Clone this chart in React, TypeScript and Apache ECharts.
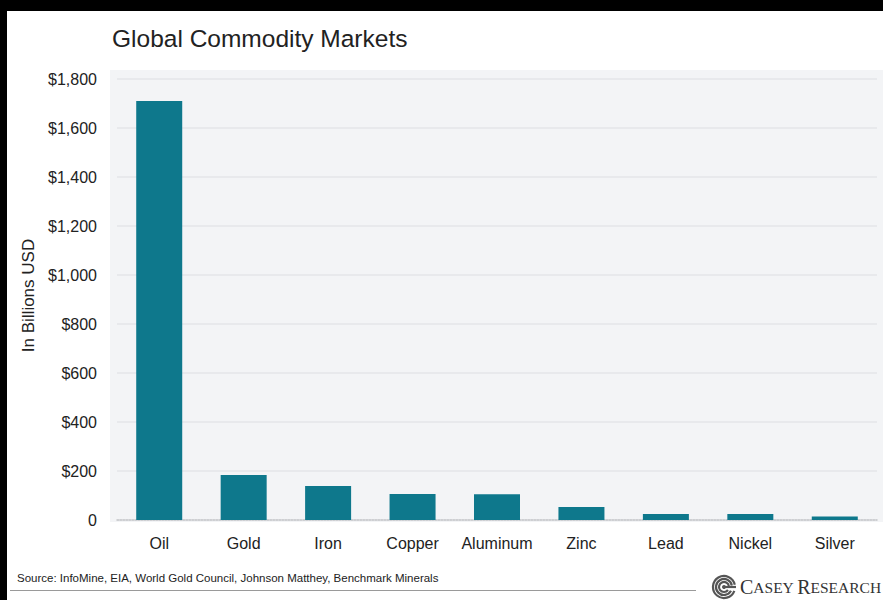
import React, { useEffect, useRef } from "react";
import * as echarts from "echarts";

const categories = ["Oil", "Gold", "Iron", "Copper", "Aluminum", "Zinc", "Lead", "Nickel", "Silver"];
const marketValues = [1710, 184, 139, 106, 105, 53, 24, 24, 14];
const yTickLabels = ["0", "$200", "$400", "$600", "$800", "$1,000", "$1,200", "$1,400", "$1,600", "$1,800"];
const titleText = "Global Commodity Markets";
const yAxisTitle = "In Billions USD";
const sourceText = "Source: InfoMine, EIA, World Gold Council, Johnson Matthey, Benchmark Minerals";

const FONT = "'Liberation Sans', Arial, Helvetica, sans-serif";
const SERIF = "'Liberation Serif', 'Times New Roman', serif";

export default function App() {
  const ref = useRef<HTMLDivElement>(null);

  useEffect(() => {
    if (!ref.current) return;
    const chart = echarts.init(ref.current, null, { renderer: "svg" });
    const cx = 724;
    const cy = 587;
    const swirl = [11, 8, 5].map((r, i) => ({
      type: "arc",
      z: 5,
      shape: { cx, cy, r, startAngle: 0.35 + i * 0.15, endAngle: Math.PI * 2 - 0.2 },
      style: { stroke: "#555", lineWidth: 2.2, fill: "none" },
      silent: true,
    }));
    chart.setOption({
      animation: false,
      backgroundColor: "#000",
      grid: { left: 117, right: 6, top: 79, bottom: 80, containLabel: false },
      xAxis: {
        type: "category",
        data: categories,
        axisTick: { show: false },
        axisLine: { show: true, lineStyle: { color: "#c4c6c9", type: "dotted", width: 1.5 } },
        axisLabel: { color: "#222", fontFamily: FONT, fontSize: 16, margin: 15, interval: 0 },
      },
      yAxis: {
        type: "value",
        min: 0,
        max: 1800,
        interval: 200,
        name: yAxisTitle,
        nameLocation: "middle",
        nameGap: 78,
        nameRotate: 90,
        nameTextStyle: { color: "#222", fontFamily: FONT, fontSize: 17, padding: [0, 0, 0, 8] },
        axisLine: { show: false },
        axisTick: { show: false },
        axisLabel: {
          color: "#222",
          fontFamily: FONT,
          fontSize: 16,
          margin: 20,
          formatter: (_v: number, idx: number) => yTickLabels[idx],
        },
        splitLine: { show: true, lineStyle: { color: "#e4e6e9", width: 1.5 } },
      },
      series: [
        {
          type: "bar",
          data: marketValues,
          barWidth: 46,
          itemStyle: { color: "#0e788c" },
        },
      ],
      graphic: [
        { type: "rect", z: -20, silent: true, shape: { x: 7, y: 11, width: 876, height: 589 }, style: { fill: "#fff" } },
        { type: "rect", z: -10, silent: true, shape: { x: 110, y: 70, width: 773, height: 452 }, style: { fill: "#f3f4f6" } },
        {
          type: "text",
          x: 112,
          y: 38.5,
          style: { text: titleText, fontFamily: FONT, fontSize: 24.5, fill: "#222", verticalAlign: "middle", align: "left" },
        },
        {
          type: "text",
          x: 17,
          y: 578,
          style: { text: sourceText, fontFamily: FONT, fontSize: 11.5, fill: "#222", verticalAlign: "middle", align: "left" },
        },
        { type: "line", shape: { x1: 10, y1: 590.5, x2: 696, y2: 590.5 }, style: { stroke: "#9a9a9a", lineWidth: 1 } },
        ...swirl,
        { type: "circle", z: 5, shape: { cx, cy, r: 2 }, style: { fill: "#555" } },
        { type: "line", z: 5, shape: { x1: cx, y1: cy, x2: cx + 12, y2: cy }, style: { stroke: "#555", lineWidth: 2.2 } },
        {
          type: "text",
          x: 740,
          y: 597,
          style: {
            text: "{b|C}{s|ASEY} {b|R}{s|ESEARCH}",
            verticalAlign: "bottom",
            align: "left",
            fill: "#333",
            rich: {
              b: { fontFamily: SERIF, fontSize: 20, fill: "#333" },
              s: { fontFamily: SERIF, fontSize: 15.5, fill: "#333" },
            },
          },
        },
      ],
    });
    return () => chart.dispose();
  }, []);

  return <div ref={ref} style={{ position: "fixed", left: 0, top: 0, width: 883, height: 600 }} />;
}
